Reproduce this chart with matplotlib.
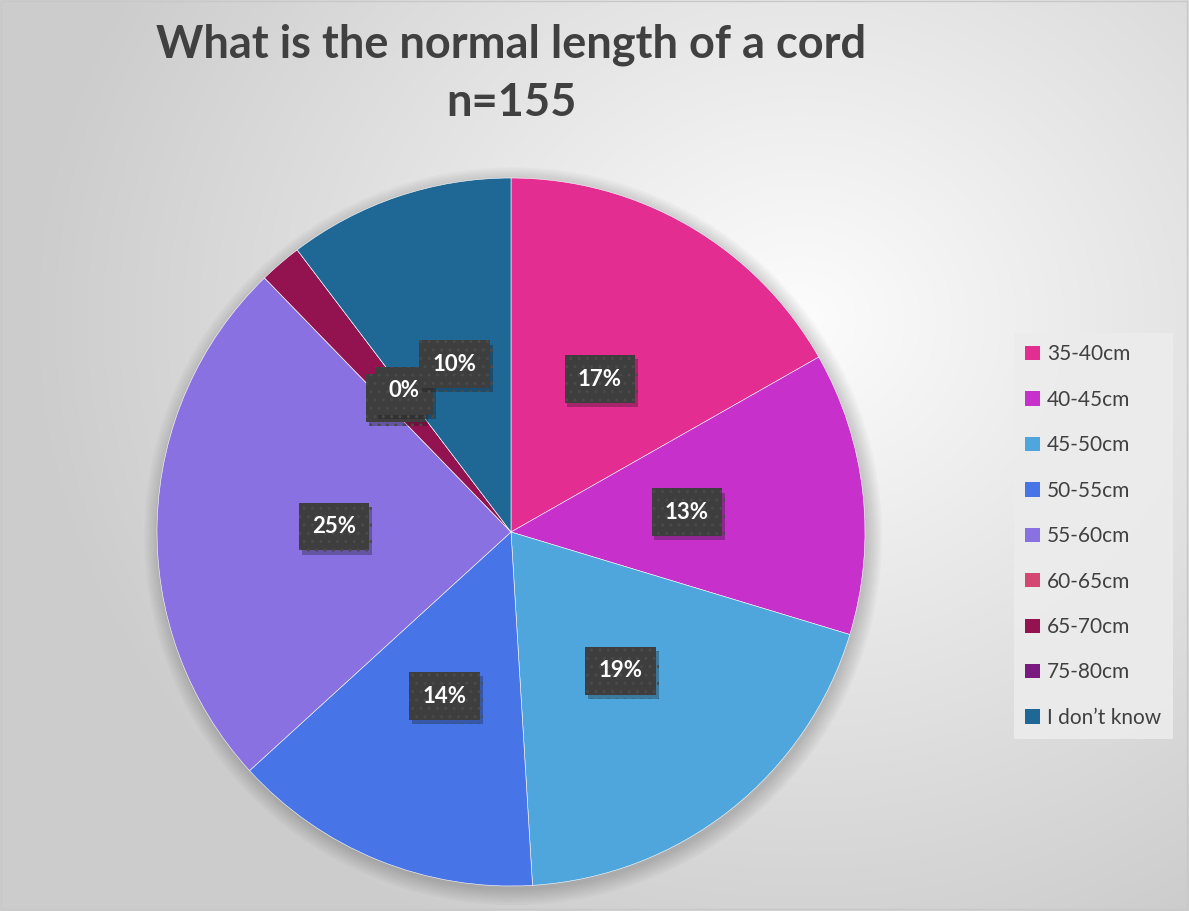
import numpy as np
import matplotlib.pyplot as plt
from matplotlib.patches import Patch, Circle, Rectangle
import matplotlib.patheffects as pe

plt.rcParams['font.family'] = ['Lato', 'DejaVu Sans']

# survey answers (n=155)
categories = ['35-40cm', '40-45cm', '45-50cm', '50-55cm', '55-60cm',
              '60-65cm', '65-70cm', '75-80cm', 'I don\u2019t know']
counts = [26, 20, 30, 22, 38, 0, 3, 0, 16]
colors = ['#E32D91', '#C830CC', '#4EA6DC', '#4775E7', '#8971E1',
          '#D54773', '#931350', '#7A1A7E', '#1F6896']
# which data labels are drawn (the 60-65 one is covered, the 65-70 box sits behind "0%")
show_label = [True, True, True, True, True, False, 'box', True, True]

W, H = 1189, 911
fig = plt.figure(figsize=(W / 100, H / 100), dpi=100)

# soft radial background
bg = fig.add_axes([0, 0, 1, 1], zorder=-10)
yy, xx = np.mgrid[0:H, 0:W]
d = np.sqrt(((xx - 800) / 900) ** 2 + ((yy - 320) / 800) ** 2)
shade = np.clip(0.99 - 0.22 * d, 0.80, 1.0)
bg.imshow(np.dstack([shade] * 3), extent=[0, W, H, 0], aspect='auto')
bg.add_patch(Rectangle((1, 1), W - 3, H - 3, fill=False, ec='#c8c8c8', lw=1))
bg.set_xlim(0, W)
bg.set_ylim(H, 0)
bg.axis('off')

# pie axes: centre (511, 532), radius 354 px
cx, cy, r = 511, 532, 354
half = 380
ax = fig.add_axes([(cx - half) / W, (H - cy - half) / H, 2 * half / W, 2 * half / H])

# faint shadow round the pie
for k in range(8):
    ax.add_patch(Circle((0.006, -0.012), 1.0 + 0.006 * k, color='black',
                        alpha=0.025, lw=0, zorder=0))

wedges, _ = ax.pie(counts, colors=colors, startangle=90, counterclock=False,
                   radius=1.0, wedgeprops=dict(ec='white', lw=0.4))
for w in wedges:
    w.set_zorder(2)
ax.set_xlim(-half / r, half / r)
ax.set_ylim(-half / r, half / r)
ax.set_aspect('equal')
ax.axis('off')

total = sum(counts)
for w, c, show in zip(wedges, counts, show_label):
    if not show:
        continue
    mid = np.deg2rad((w.theta1 + w.theta2) / 2)
    x, y = 0.5 * np.cos(mid), 0.5 * np.sin(mid)
    s = f'{round(100 * c / total)}%' if show is True else '      '
    t = ax.text(x, y, s, ha='center', va='center',
                fontsize=16, fontweight='bold', color='white', zorder=5,
                bbox=dict(boxstyle='square,pad=0.6', fc='#3e3e3e',
                          ec='#4a4a4a', lw=0, hatch='..'))
    t.get_bbox_patch().set_path_effects(
        [pe.SimplePatchShadow(offset=(2, -3), alpha=0.3), pe.Normal()])

fig.text(0.43, 0.951, 'What is the normal length of a cord', ha='center',
         va='center', fontsize=32.5, fontweight='bold', color='#404040')
fig.text(0.43, 0.887, 'n=155', ha='center', va='center', fontsize=32.5,
         fontweight='bold', color='#404040')

handles = [Patch(fc=c, ec='none') for c in colors]
leg = fig.legend(handles, categories, loc='upper left',
                 bbox_to_anchor=(1014 / W, 1 - 333 / H), frameon=True,
                 fontsize=15, labelspacing=1.22, handlelength=0.68,
                 handleheight=0.68, handletextpad=0.35, borderpad=0.55,
                 borderaxespad=0, fancybox=False)
leg.get_frame().set_facecolor('#ececec')
leg.get_frame().set_edgecolor('none')
leg.get_frame().set_alpha(0.9)
for txt in leg.get_texts():
    txt.set_color('#404040')

fig.savefig('out.png', dpi=100)
